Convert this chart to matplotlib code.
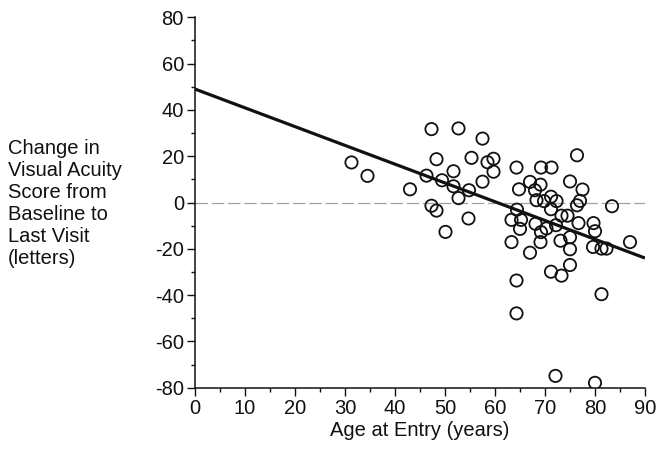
import matplotlib
matplotlib.use("Agg")
import matplotlib.pyplot as plt
from matplotlib.ticker import MultipleLocator

# Data
age = [31.3, 34.5, 43.0, 46.3, 47.3, 52.7, 57.5, 48.3, 55.3, 58.5,
       59.7, 59.7, 51.7, 49.4, 51.7, 54.8, 57.5, 52.7, 47.3, 48.3,
       54.7, 50.1, 64.3, 69.2, 71.3, 76.4, 67.0, 69.1, 75.0, 64.8,
       68.0, 77.5, 68.3, 69.8, 71.2, 72.3, 71.2, 77.0, 76.4, 83.4,
       64.4, 63.3, 65.2, 68.1, 73.3, 74.5, 70.3, 69.2, 72.2, 76.7,
       79.7, 80.0, 65.0, 63.3, 69.1, 73.1, 75.0, 75.0, 79.6, 81.3,
       82.3, 87.0, 67.0, 71.2, 73.3, 75.0, 64.3, 64.3, 81.3, 72.1,
       80.0]
change = [17.3, 11.5, 5.7, 11.6, 31.7, 32.0, 27.6, 18.7, 19.3, 17.4,
          18.9, 13.3, 13.5, 9.6, 7.0, 5.3, 9.0, 1.9, -1.4, -3.5,
          -6.9, -12.7, 15.1, 15.1, 15.1, 20.4, 8.9, 7.7, 9.1, 5.7,
          5.3, 5.6, 1.0, 0.6, 2.5, 0.6, -2.9, 0.7, -1.2, -1.6,
          -3.1, -7.5, -7.5, -9.2, -5.7, -5.7, -11.2, -12.8, -9.8, -8.9,
          -8.9, -12.4, -11.4, -17.1, -17.1, -16.5, -15.0, -20.2, -19.2, -19.9,
          -19.9, -17.1, -21.7, -29.9, -31.6, -27.0, -33.7, -47.9, -39.6, -74.9,
          -77.9]
fit_x = [0, 90]
fit_y = [49, -24]
xticks = list(range(0, 91, 10))
yticks = list(range(-80, 81, 20))
ylabel_text = "Change in\nVisual Acuity\nScore from\nBaseline to\nLast Visit\n(letters)"
xlabel_text = "Age at Entry (years)"

plt.rcParams['font.family'] = ['Liberation Sans', 'DejaVu Sans']
plt.rcParams['axes.unicode_minus'] = False

FS = 14.5

fig = plt.figure(figsize=(6.66, 4.51), dpi=100)
ax = fig.add_axes([195/666, 1 - 387.7/451, 450/666, 370.4/451])

ax.plot([0, 90], [0, 0], color='#a0a0a0', lw=0.9, dashes=(10, 3), zorder=1)
ax.plot(fit_x, fit_y, color='#111111', lw=2.3, solid_capstyle='butt', zorder=3)
ax.scatter(age, change, s=78, facecolors='none', edgecolors='#111111',
           linewidths=1.3, zorder=2)

ax.set_xlim(0, 90)
ax.set_ylim(-80, 80)
ax.set_xticks(xticks)
ax.set_yticks(yticks)
ax.xaxis.set_minor_locator(MultipleLocator(5))
ax.yaxis.set_minor_locator(MultipleLocator(10))
ax.tick_params(which='major', direction='out', length=6, width=1, labelsize=FS,
               color='#111111', labelcolor='#111111')
ax.tick_params(which='minor', direction='out', length=3, width=1, color='#111111')
ax.tick_params(axis='x', pad=2)
ax.tick_params(axis='y', pad=2)
for s in ['top', 'right']:
    ax.spines[s].set_visible(False)
for s in ['left', 'bottom']:
    ax.spines[s].set_linewidth(1.1)
    ax.spines[s].set_color('#111111')

ax.set_xlabel(xlabel_text, fontsize=FS, color='#111111', labelpad=2)
fig.text(8/666, 1 - 203/451, ylabel_text, fontsize=FS, color='#111111',
         ha='left', va='center', linespacing=1.2)

fig.savefig("out.png", dpi=100)
